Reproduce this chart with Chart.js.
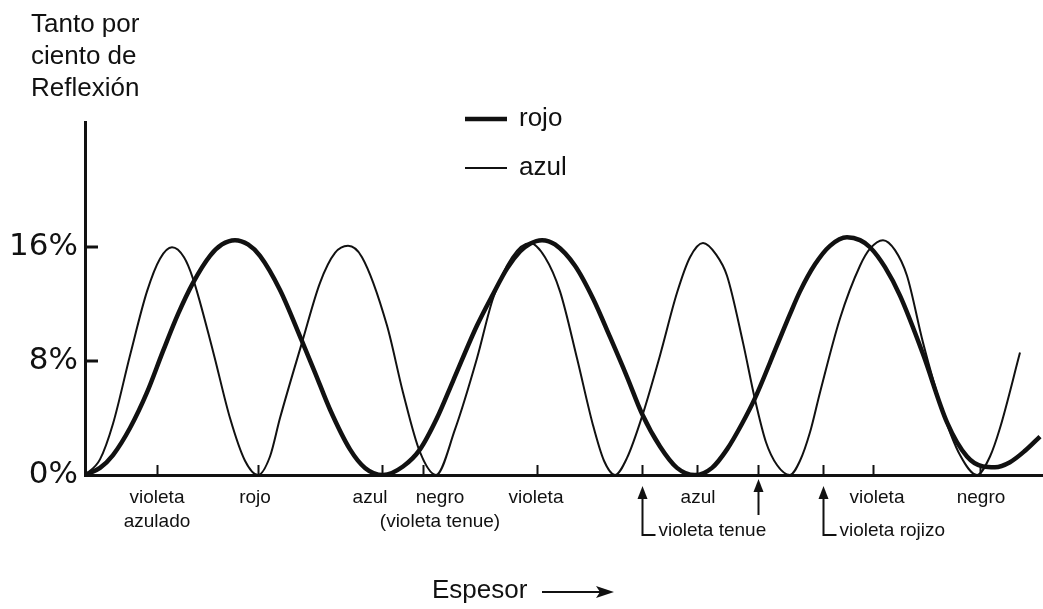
<!DOCTYPE html>
<html>
<head>
<meta charset="utf-8">
<script src="https://cdn.jsdelivr.net/npm/chart.js@4.4.1/dist/chart.umd.min.js"></script>
<style>
  html, body { margin: 0; padding: 0; background: #fff; }
  #wrap { width: 1043px; height: 609px; }
</style>
</head>
<body>
<div id="wrap"><canvas id="chart" width="1043" height="609"></canvas></div>
<script>
// ── DATA ──────────────────────────────────────────────────────────
// espesor (arbitrary units from the origin) and % reflexion
const rojoX = [0, 1.5, 2.8, 4.5, 6.2, 7.8, 9.3, 10.8, 12.5, 13.7, 15.0, 16.3, 17.5, 19.5, 21.7, 23.0, 24.5, 26.5, 28.0, 29.8,
               31.8, 33.5, 35.2, 36.8, 39.2, 40.8, 42.2, 43.5, 44.5, 45.7, 47.0, 49.0, 50.8, 52.5, 54.2, 55.7, 57.5, 59.2, 61.0,
               62.7, 64.2, 65.7, 67.0, 69.2, 70.5, 71.5, 73.0, 74.5, 76.2, 77.5, 78.5, 80.0, 81.5, 83.8, 86.2, 88.2, 89.8,
               91.0, 92.5, 94.0, 95.5];
const rojoY = [0, 0.5, 1.4, 3.3, 5.8, 8.7, 11.3, 13.5, 15.4, 16.2, 16.5, 16.2, 15.4, 13.0, 9.4, 7.2, 4.6, 1.8, 0.5, 0,
               0.6, 1.8, 4.0, 6.6, 10.5, 12.7, 14.5, 15.7, 16.25, 16.5, 16.2, 14.7, 12.4, 9.7, 6.9, 4.3, 2.0, 0.5, 0,
               0.5, 1.8, 3.6, 5.4, 9.1, 11.3, 12.9, 14.8, 16.1, 16.7, 16.5, 16.0, 14.6, 12.6, 8.5, 3.7, 1.3, 0.6,
               0.55, 0.9, 1.7, 2.7];

const azulX = [0, 1.5, 2.8, 4.5, 6.2, 7.5, 8.7, 9.9, 10.8, 12.8, 14.5, 16.0, 17.3, 18.5, 19.5, 21.7, 23.5, 25.0, 26.3, 27.7,
               30.2, 31.8, 33.5, 35.1, 37.0, 39.2, 40.8, 42.7, 44.5, 46.0, 47.5, 49.2, 50.8, 51.9, 53.0, 54.2, 55.7, 57.5,
               59.2, 60.5, 61.8, 63.1, 64.2, 65.8, 67.0, 68.1, 69.2, 70.5, 71.5, 72.5, 73.5, 75.5, 77.5, 78.5, 79.8,
               81.0, 82.2, 83.8, 85.8, 87.5, 89.2, 90.5, 91.5, 93.5];
const azulY = [0, 1.1, 3.6, 8.4, 12.9, 15.2, 16.0, 15.3, 13.8, 8.7, 4.0, 1.0, 0, 1.3, 4.0, 9.3, 13.5, 15.6, 16.1, 15.3,
               10.5, 5.8, 1.6, 0, 3.2, 8.2, 12.4, 15.3, 16.3, 15.3, 12.9, 8.2, 3.5, 1.0, 0, 1.2, 4.1, 8.4,
               12.8, 15.3, 16.3, 15.5, 14.0, 9.3, 5.3, 2.3, 0.7, 0, 1.0, 3.0, 5.8, 11.0, 14.7, 15.9, 16.5,
               15.8, 14.0, 9.3, 4.4, 1.4, 0, 1.3, 3.3, 8.6];

const yTicks = [0, 8, 16];

// small marks on the thickness axis
const tickMarks = [7.2, 17.3, 29.7, 33.8, 45.2, 55.7, 61.2, 67.3, 73.8, 78.8, 89.5];

// perceived colour under the axis
const colorNames = [["violeta", "azulado"], ["rojo"], ["azul"], ["negro", "(violeta tenue)"],
                    ["violeta"], ["azul"], ["violeta"], ["negro"]];
const colorNameX = [7.2, 17.0, 28.5, 35.5, 45.1, 61.3, 79.2, 89.6];

// arrows under the axis
const arrowX    = [55.7, 67.3, 73.8];
const arrowText = ["violeta tenue", "", "violeta rojizo"];

const seriesNames = ["rojo", "azul"];

// ── STYLE ─────────────────────────────────────────────────────────
const INK  = "#111";
const SANS = "'Liberation Sans', Arial, sans-serif";

Chart.defaults.font.family = SANS;
Chart.defaults.color = INK;

const toPoints = (xs, ys) => xs.map((x, i) => ({ x, y: ys[i] }));

// ── ANNOTATIONS ───────────────────────────────────────────────────
const extras = {
  id: "extras",
  afterDraw(chart) {
    const { ctx, scales: { x, y } } = chart;
    const base = y.getPixelForValue(0);
    const left = x.getPixelForValue(0);
    ctx.save();
    ctx.strokeStyle = INK;
    ctx.fillStyle = INK;

    // y ticks pointing into the plot
    ctx.lineWidth = 3;
    yTicks.filter(v => v > 0).forEach(v => {
      const py = Math.round(y.getPixelForValue(v));
      ctx.beginPath();
      ctx.moveTo(left, py);
      ctx.lineTo(left + 13, py);
      ctx.stroke();
    });

    // x tick marks
    ctx.lineWidth = 2;
    tickMarks.forEach(t => {
      const px = Math.round(x.getPixelForValue(t)) + 0.5;
      ctx.beginPath();
      ctx.moveTo(px, base);
      ctx.lineTo(px, base - 10);
      ctx.stroke();
    });

    // colour names
    ctx.font = `19px ${SANS}`;
    ctx.textAlign = "center";
    ctx.textBaseline = "middle";
    colorNames.forEach((lines, i) => {
      const px = x.getPixelForValue(colorNameX[i]);
      lines.forEach((s, j) => ctx.fillText(s, px, base + 23 + j * 24));
    });

    // arrows
    ctx.lineWidth = 2;
    ctx.textAlign = "left";
    arrowX.forEach((t, i) => {
      const px = Math.round(x.getPixelForValue(t)) + 0.5;
      const tip = arrowText[i] ? base + 11 : base + 4;
      const end = arrowText[i] ? base + 60 : base + 40;
      ctx.beginPath();
      ctx.moveTo(px, tip + 8);
      ctx.lineTo(px, end);
      if (arrowText[i]) ctx.lineTo(px + 13, end);
      ctx.stroke();
      ctx.beginPath();
      ctx.moveTo(px, tip);
      ctx.lineTo(px - 5, tip + 13);
      ctx.lineTo(px + 5, tip + 13);
      ctx.closePath();
      ctx.fill();
      if (arrowText[i]) ctx.fillText(arrowText[i], px + 16, end - 4);
    });

    // y title
    ctx.font = `26px ${SANS}`;
    ctx.textBaseline = "alphabetic";
    ["Tanto por", "ciento de", "Reflexión"].forEach((s, i) => ctx.fillText(s, 31, 32 + i * 32));

    // legend
    chart.data.datasets.forEach((ds, i) => {
      const ly = 119 + i * 49;
      ctx.lineWidth = ds.borderWidth;
      ctx.beginPath();
      ctx.moveTo(465, ly);
      ctx.lineTo(507, ly);
      ctx.stroke();
      ctx.textBaseline = "middle";
      ctx.fillText(ds.label, 519, ly);
    });

    // x title
    ctx.font = `26px ${SANS}`;
    ctx.fillText("Espesor", 432, 591);
    ctx.lineWidth = 2;
    ctx.beginPath();
    ctx.moveTo(542, 592);
    ctx.lineTo(602, 592);
    ctx.stroke();
    ctx.beginPath();
    ctx.moveTo(614, 592);
    ctx.lineTo(596, 586);
    ctx.lineTo(600, 592);
    ctx.lineTo(596, 598);
    ctx.closePath();
    ctx.fill();

    ctx.restore();
  }
};

// ── CHART ─────────────────────────────────────────────────────────
new Chart(document.getElementById("chart"), {
  type: "line",
  data: {
    datasets: [
      {
        label: seriesNames[0],
        data: toPoints(rojoX, rojoY),
        borderColor: INK,
        borderWidth: 4.5,
        pointRadius: 0,
        cubicInterpolationMode: "monotone",
        fill: false,
      },
      {
        label: seriesNames[1],
        data: toPoints(azulX, azulY),
        borderColor: INK,
        borderWidth: 2,
        pointRadius: 0,
        cubicInterpolationMode: "monotone",
        fill: false,
      }
    ]
  },
  options: {
    responsive: false,
    animation: false,
    layout: { padding: { top: 122, right: 0, left: 0, bottom: 0 } },
    plugins: {
      legend:  { display: false },
      tooltip: { enabled: false },
    },
    scales: {
      x: {
        type: "linear",
        min: 0,
        max: 95.8,
        grid:   { display: false, drawTicks: false },
        border: { display: true, color: INK, width: 3 },
        ticks:  { display: false },
        afterFit: s => { s.height = 134; }
      },
      y: {
        min: 0,
        max: 24.8,
        grid:   { display: false, drawTicks: false },
        border: { display: true, color: INK, width: 3 },
        afterBuildTicks: s => { s.ticks = yTicks.map(v => ({ value: v })); },
        ticks: {
          padding: 7,
          color: INK,
          font: { family: "'DejaVu Sans', sans-serif", size: 31 },
          callback: v => v + "%"
        },
        afterFit: s => { s.width = 85; }
      }
    }
  },
  plugins: [extras]
});
</script>
</body>
</html>
